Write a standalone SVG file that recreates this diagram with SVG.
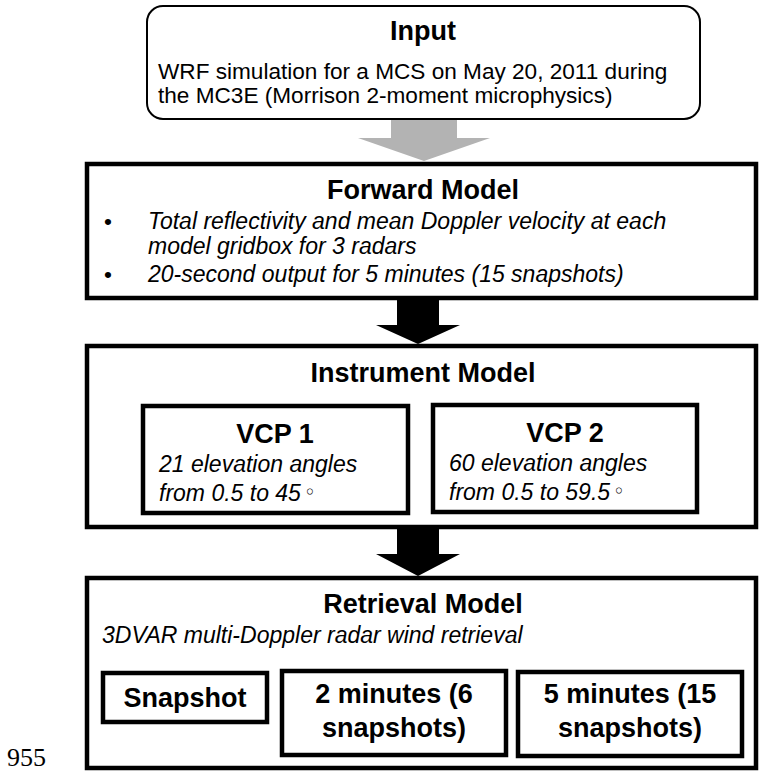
<svg xmlns="http://www.w3.org/2000/svg" width="761" height="773" viewBox="0 0 761 773">
<defs>
<style>
.box{fill:#fff;stroke:#000;stroke-width:4.5}
.inbox{fill:#fff;stroke:#000;stroke-width:2}
.t{font-family:"Liberation Sans",Arial,sans-serif;fill:#000}
.title{font-size:27px;font-weight:bold;text-anchor:middle}
.body{font-size:22.6px}
.it{font-size:23px;font-style:italic}
.deg{font-family:"DejaVu Sans",sans-serif;font-size:20px;font-style:normal}
.ln{font-family:"Liberation Serif","Times New Roman",serif;font-size:26px;fill:#000}
</style>
</defs>
<rect width="761" height="773" fill="#fff"/>
<text class="ln" x="7" y="766">955</text>
<g id="connectors">
<polygon points="391,119 457,119 457,138 490,138 424,161 358,138 391,138" fill="#b3b3b3"/>
<polygon points="397,298 439,298 439,325 460,325 418,344 376,325 397,325" fill="#000"/>
<polygon points="397,528 439,528 439,554 460,554 418,576 376,554 397,554" fill="#000"/>
</g>
<g id="input">
<rect class="inbox" x="147" y="6" width="553" height="113" rx="16"/>
<text class="t title" x="423" y="40">Input</text>
<text class="t body" x="158" y="79">WRF simulation for a MCS on May 20, 2011 during</text>
<text class="t body" x="158" y="103">the MC3E (Morrison 2-moment microphysics)</text>
</g>
<g id="forward">
<rect class="box" x="87" y="164" width="669" height="134"/>
<text class="t title" x="423" y="199">Forward Model</text>
<text class="t body" x="104" y="229">•</text>
<text class="t it" x="148" y="229">Total reflectivity and mean Doppler velocity at each</text>
<text class="t it" x="148" y="254">model gridbox for 3 radars</text>
<text class="t body" x="104" y="282">•</text>
<text class="t it" x="148" y="282">20-second output for 5 minutes (15 snapshots)</text>
</g>
<g id="instrument">
<rect class="box" x="87" y="346" width="669" height="181"/>
<text class="t title" x="423" y="382">Instrument Model</text>
</g>
<g id="vcp1">
<rect class="box" x="143" y="406" width="265" height="107"/>
<text class="t title" x="275" y="443">VCP 1</text>
<text class="t it" x="159" y="472">21 elevation angles</text>
<text class="t it" x="159" y="501">from 0.5 to 45<tspan class="deg" dx="3" dy="-2">◦</tspan></text>
</g>
<g id="vcp2">
<rect class="box" x="433" y="405" width="264" height="107"/>
<text class="t title" x="565" y="442">VCP 2</text>
<text class="t it" x="449" y="471">60 elevation angles</text>
<text class="t it" x="449" y="500">from 0.5 to 59.5<tspan class="deg" dx="3" dy="-2">◦</tspan></text>
</g>
<g id="retrieval">
<rect class="box" x="87" y="578" width="669" height="190"/>
<text class="t title" x="423" y="613">Retrieval Model</text>
<text class="t it" x="102" y="643">3DVAR multi-Doppler radar wind retrieval</text>
</g>
<g id="snapshot">
<rect class="box" x="103" y="673" width="164" height="49"/>
<text class="t title" x="185" y="707">Snapshot</text>
</g>
<g id="two-min">
<rect class="box" x="282" y="671" width="224" height="84"/>
<text class="t title" x="394" y="703">2 minutes (6</text>
<text class="t title" x="394" y="737">snapshots)</text>
</g>
<g id="five-min">
<rect class="box" x="518" y="672" width="224" height="84"/>
<text class="t title" x="630" y="703">5 minutes (15</text>
<text class="t title" x="630" y="737">snapshots)</text>
</g>
</svg>
